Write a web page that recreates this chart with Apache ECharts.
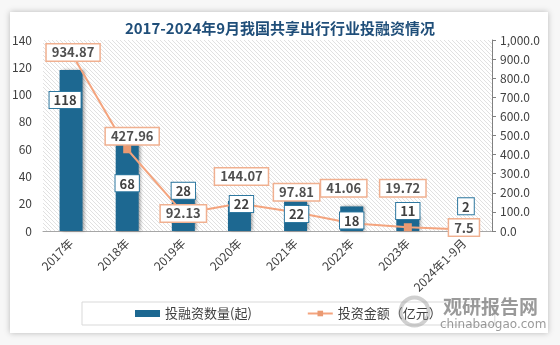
<!DOCTYPE html>
<html>
<head>
<meta charset="utf-8">
<script src="https://cdn.jsdelivr.net/npm/echarts@6/dist/echarts.min.js"></script>
<style>
html,body{margin:0;padding:0;background:#f7f7f7;}
#card{position:absolute;left:10px;top:12px;width:538px;height:321px;background:#fff;box-shadow:0 0 6px rgba(0,0,0,0.25);}
#main{position:absolute;left:0;top:0;width:560px;height:345px;}
</style>
</head>
<body>
<div id="card"></div>
<div id="main"></div>
<script>
const categories = ['2017年','2018年','2019年','2020年','2021年','2022年','2023年','2024年1-9月'];
const dealCounts = [118, 68, 28, 22, 22, 18, 11, 2];
const amounts = [934.87, 427.96, 92.13, 144.07, 97.81, 41.06, 19.72, 7.5];
const leftTicks = [0, 20, 40, 60, 80, 100, 120, 140];
const rightTicks = [0, 100, 200, 300, 400, 500, 600, 700, 800, 900, 1000];

// hatch pattern
const pc = document.createElement('canvas');
pc.width = 4; pc.height = 4;
const g = pc.getContext('2d');
g.fillStyle = '#ffffff'; g.fillRect(0,0,4,4);
g.strokeStyle = '#dedede'; g.lineWidth = 0.9;
g.beginPath(); g.moveTo(0,0); g.lineTo(4,4); g.moveTo(-1,3); g.lineTo(1,5); g.moveTo(3,-1); g.lineTo(5,1); g.stroke();

const barOff = [[-6,22],[0,37],[0,-10],[2,-5],[1,5],[0,6],[0,-13],[2,-30]];
const lineOff = [[2,0],[5,-13],[0,0],[2,-27],[1,-20],[-8,-35],[-5,-39],[0,-2]];
const font = '"Noto Sans CJK SC", "Open Sans", sans-serif';

const labelBox = {
  show: true,
  backgroundColor: '#fff', borderWidth: 1,
  fontSize: 13, fontWeight: 'bold', fontFamily: font
};

const chart = echarts.init(document.getElementById('main'));
chart.setOption({
  animation: false,
  backgroundColor: 'transparent',
  textStyle: {fontFamily: font},
  title: {
    text: '2017-2024年9月我国共享出行行业投融资情况',
    left: 'center', top: 16,
    textStyle: {fontSize: 15, fontWeight: 'bold', color: '#1f4e79', fontFamily: font}
  },
  grid: {
    left: 43, right: 68, top: 40, bottom: 114,
    show: true, borderWidth: 0,
    backgroundColor: {image: pc, repeat: 'repeat'}
  },
  legend: {
    left: 82, top: 302,
    padding: [5, 53],
    itemGap: 55,
    borderColor: '#d9d9d9', borderWidth: 1,
    itemWidth: 25, itemHeight: 7,
    textStyle: {fontSize: 13, color: '#404040', fontFamily: font},
    data: [
      {name: '投融资数量(起)', icon: 'rect'},
      {name: '投资金额（亿元）'}
    ]
  },
  xAxis: {
    type: 'category',
    data: categories,
    axisLine: {lineStyle: {color: '#a6a6a6'}},
    axisTick: {show: false},
    axisLabel: {rotate: 45, fontSize: 12, color: '#404040', margin: 10, interval: 0}
  },
  yAxis: [
    {
      type: 'value', min: 0, max: 140, interval: 20,
      splitLine: {show: false},
      axisLine: {show: false}, axisTick: {show: false},
      axisLabel: {fontSize: 12, color: '#404040', margin: 11}
    },
    {
      type: 'value', min: 0, max: 1000, interval: 100,
      splitLine: {show: false},
      axisLine: {show: true, lineStyle: {color: '#808080'}},
      axisTick: {show: true, length: 4, lineStyle: {color: '#808080'}},
      axisLabel: {
        fontSize: 12, color: '#404040', margin: 8,
        formatter: v => v.toLocaleString('en-US', {minimumFractionDigits: 1, maximumFractionDigits: 1})
      }
    }
  ],
  series: [
    {
      name: '投融资数量(起)',
      type: 'bar',
      barWidth: 23,
      itemStyle: {color: '#1d6891', shadowColor: 'rgba(0,0,0,0.35)', shadowBlur: 3, shadowOffsetX: 2, shadowOffsetY: 0},
      data: dealCounts,
      z: 2
    },
    {
      name: '投资金额（亿元）',
      type: 'line',
      yAxisIndex: 1,
      symbol: 'rect', symbolSize: 8,
      lineStyle: {color: '#f4a47e', width: 2},
      itemStyle: {color: '#ea9a72'},
      data: amounts.map((v, i) => ({
        value: v,
        label: {offset: lineOff[i]}
      })),
      label: Object.assign({}, labelBox, {
        position: 'inside', borderColor: '#f0b090', borderWidth: 1.5,
        padding: [2, 5, 1, 5], color: '#505050'
      }),
      z: 3
    },
    {
      name: 'barLabels',
      type: 'bar',
      barWidth: 23,
      barGap: '-100%',
      itemStyle: {color: 'rgba(0,0,0,0)'},
      silent: true,
      data: dealCounts.map((v, i) => ({
        value: v,
        label: {offset: barOff[i]}
      })),
      label: Object.assign({}, labelBox, {
        position: 'insideTop', distance: 0, borderColor: '#2e78a0',
        padding: [2, 4, 1, 4], color: '#404040'
      }),
      z: 4
    }
  ],
  graphic: [
    {type: 'circle', left: 398, top: 295, z: 99,
      shape: {r: 14}, style: {fill: 'none', stroke: 'rgba(150,150,150,0.45)', lineWidth: 4}},
    {type: 'text', left: 443, top: 297, z: 100,
      style: {text: '观研报告网', fontSize: 19, fontWeight: 'bold', fill: 'rgba(120,120,120,0.75)', fontFamily: font}},
    {type: 'text', left: 440, top: 319, z: 100,
      style: {text: 'chinabaogao.com', fontSize: 12, fill: 'rgba(120,120,120,0.75)', fontFamily: '"DejaVu Sans", sans-serif'}}
  ]
});
</script>
</body>
</html>
